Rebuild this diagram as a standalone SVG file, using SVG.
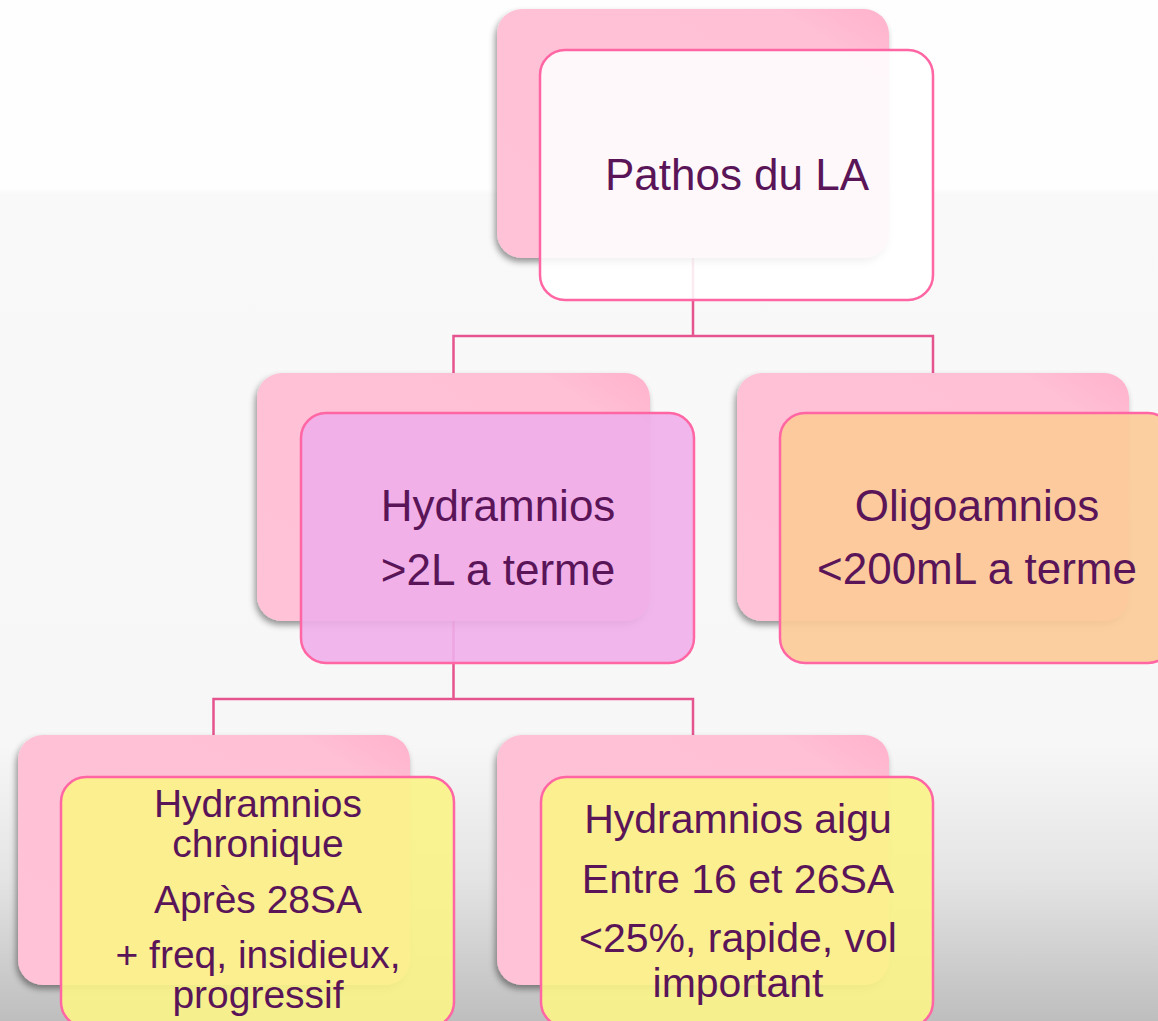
<svg xmlns="http://www.w3.org/2000/svg" width="1158" height="1021" viewBox="0 0 1158 1021">
<defs>
<linearGradient id="bg" x1="0" y1="0" x2="0" y2="1">
<stop offset="0" stop-color="#fefefe"/>
<stop offset="0.185" stop-color="#fefefe"/>
<stop offset="0.19" stop-color="#f9f9f9"/>
<stop offset="0.73" stop-color="#f7f7f7"/>
<stop offset="0.86" stop-color="#e4e4e4"/>
<stop offset="1" stop-color="#bebebe"/>
</linearGradient>
<linearGradient id="backg" x1="0" y1="1" x2="1" y2="0">
<stop offset="0" stop-color="#ffc2d6"/>
<stop offset="0.85" stop-color="#ffc0d5"/>
<stop offset="1" stop-color="#ffb2cb"/>
</linearGradient>
<filter id="sh" x="-10%" y="-10%" width="120%" height="125%">
<feDropShadow dx="-2" dy="4" stdDeviation="3" flood-color="#000" flood-opacity="0.4"/>
</filter>
<style>
.back{fill:url(#backg);filter:url(#sh)}
.front{stroke:#ff66a3;stroke-width:2.5}
.conn{fill:none;stroke:#e6548f;stroke-width:2.5}
text{font-family:"Liberation Sans",Arial,sans-serif;fill:#5a1558;text-anchor:middle}
.t1{font-size:44px}
.t2{font-size:39px}
.t3{font-size:41px}
</style>
</defs>
<rect x="0" y="0" width="1158" height="1021" fill="url(#bg)"/>
<g id="connectors">
<path class="conn" d="M693 258 V336 M453.5 373 V336 H933 V373"/>
<path class="conn" d="M453.5 621 V699 M213.5 735 V699 H693 V735"/>
</g>
<g id="node-root">
<rect class="back" x="497" y="9" width="392" height="249" rx="25"/>
<rect class="front" x="540" y="50" width="393" height="250" rx="25" fill="#ffffff" fill-opacity="0.88"/>
<text class="t1" x="737" y="190">Pathos du LA</text>
</g>
<g id="node-hydramnios">
<rect class="back" x="257" y="373" width="393" height="248" rx="25"/>
<rect class="front" x="301" y="413" width="393" height="250" rx="25" fill="#f0aeea" fill-opacity="0.9"/>
<text class="t1" x="498" y="521">Hydramnios</text>
<text class="t1" x="498" y="585">&gt;2L a terme</text>
</g>
<g id="node-oligoamnios">
<rect class="back" x="737" y="373" width="392" height="248" rx="25"/>
<rect class="front" x="780" y="413" width="393" height="250" rx="25" fill="#fccb98" fill-opacity="0.92"/>
<text class="t1" x="977" y="521">Oligoamnios</text>
<text class="t1" x="977" y="584">&lt;200mL a terme</text>
</g>
<g id="node-chronique">
<rect class="back" x="18" y="735" width="392" height="250" rx="25"/>
<rect class="front" x="61" y="777" width="393" height="250" rx="25" fill="#fbf38a" fill-opacity="0.92"/>
<text class="t2" x="258" y="817">Hydramnios</text>
<text class="t2" x="258" y="857">chronique</text>
<text class="t2" x="258" y="913">Après 28SA</text>
<text class="t2" x="258" y="968">+ freq, insidieux,</text>
<text class="t2" x="258" y="1008">progressif</text>
</g>
<g id="node-aigu">
<rect class="back" x="497" y="735" width="392" height="250" rx="25"/>
<rect class="front" x="541" y="777" width="392" height="250" rx="25" fill="#fbf38a" fill-opacity="0.92"/>
<text class="t3" x="738" y="833">Hydramnios aigu</text>
<text class="t3" x="738" y="893">Entre 16 et 26SA</text>
<text class="t3" x="738" y="952">&lt;25%, rapide, vol</text>
<text class="t3" x="738" y="997">important</text>
</g>
</svg>
